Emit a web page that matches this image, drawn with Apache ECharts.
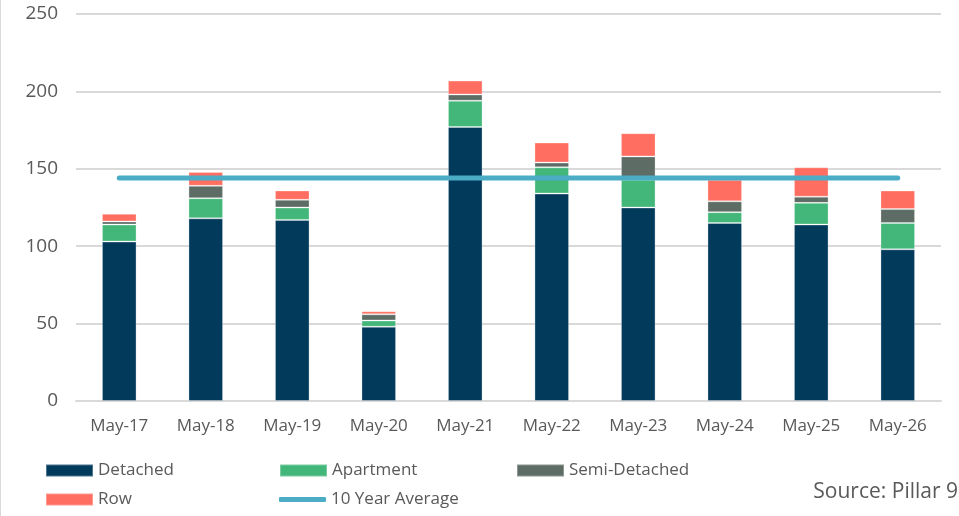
<!DOCTYPE html>
<html>
<head>
<meta charset="utf-8">
<script src="https://cdn.jsdelivr.net/npm/echarts@6/dist/echarts.min.js"></script>
<style>
  html, body { margin: 0; padding: 0; background: #fff; }
  #chart { width: 959px; height: 516px; }
</style>
</head>
<body>
<div id="chart"></div>
<script>
const categories = ['May-17', 'May-18', 'May-19', 'May-20', 'May-21', 'May-22', 'May-23', 'May-24', 'May-25', 'May-26'];
const detached = [103, 118, 117, 48, 177, 134, 125, 115, 114, 98];
const apartment = [11, 13, 8, 4, 17, 17, 18, 7, 14, 17];
const semiDetached = [2, 8, 5, 4, 4, 3, 15, 7, 4, 9];
const row = [5, 9, 6, 2, 9, 13, 15, 14, 19, 12];
const tenYearAverage = [144, 144, 144, 144, 144, 144, 144, 144, 144, 144];
const yTicks = [0, 50, 100, 150, 200, 250];

const chart = echarts.init(document.getElementById('chart'));

const FONT = 'Open Sans';
const TEXT = '#595959';
const barBorder = { borderColor: 'rgba(255,255,255,0.3)', borderWidth: 1 };

function legendAt(name, left, top, extra) {
  return Object.assign({
    data: [name],
    left: left,
    top: top,
    itemWidth: 47,
    itemHeight: 12,
    itemGap: 5,
    icon: 'rect',
    selectedMode: false,
    textStyle: { fontFamily: FONT, fontSize: 17, color: TEXT, padding: [0, 0, 0, 0] }
  }, extra || {});
}

const option = {
  animation: false,
  grid: { left: 76, right: 18, top: 14, bottom: 115 },
  legend: [
    legendAt('Detached', 40, 457),
    legendAt('Apartment', 274, 457),
    legendAt('Semi-Detached', 511, 457),
    legendAt('Row', 40, 486),
    legendAt('10 Year Average', 274, 486, { icon: 'roundRect', itemHeight: 5 })
  ],
  xAxis: {
    type: 'category',
    data: categories,
    axisTick: { show: false },
    axisLine: { show: true, lineStyle: { color: '#d9d9d9', width: 2 } },
    axisLabel: { fontFamily: FONT, fontSize: 17, color: TEXT, margin: 17 }
  },
  yAxis: {
    type: 'value',
    min: yTicks[0],
    max: yTicks[yTicks.length - 1],
    interval: 50,
    axisLine: { show: false },
    axisTick: { show: false },
    axisLabel: { fontFamily: FONT, fontSize: 19, color: TEXT, margin: 18 },
    splitLine: { lineStyle: { color: '#d9d9d9', width: 2 } }
  },
  series: [
    { name: 'Detached', type: 'bar', stack: 'total', barWidth: '40%', data: detached,
      itemStyle: Object.assign({ color: '#023a5c' }, barBorder) },
    { name: 'Apartment', type: 'bar', stack: 'total', data: apartment,
      itemStyle: Object.assign({ color: '#43b77a' }, barBorder) },
    { name: 'Semi-Detached', type: 'bar', stack: 'total', data: semiDetached,
      itemStyle: Object.assign({ color: '#5d6c64' }, barBorder) },
    { name: 'Row', type: 'bar', stack: 'total', data: row,
      itemStyle: Object.assign({ color: '#ff6e60' }, barBorder) },
    { name: '10 Year Average', type: 'line', data: tenYearAverage, symbol: 'none',
      itemStyle: { color: '#4bacc6' },
      lineStyle: { color: '#4bacc6', width: 5, cap: 'round' }, z: 5 }
  ],
  graphic: [
    { type: 'text', right: 1, top: 482,
      style: { text: 'Source: Pillar 9', fontFamily: FONT, fontSize: 21, fill: TEXT } },
    { type: 'line', shape: { x1: 0.5, y1: 0, x2: 0.5, y2: 516 },
      style: { stroke: '#d9d9d9', lineWidth: 1 } }
  ]
};

chart.setOption(option);
</script>
</body>
</html>
